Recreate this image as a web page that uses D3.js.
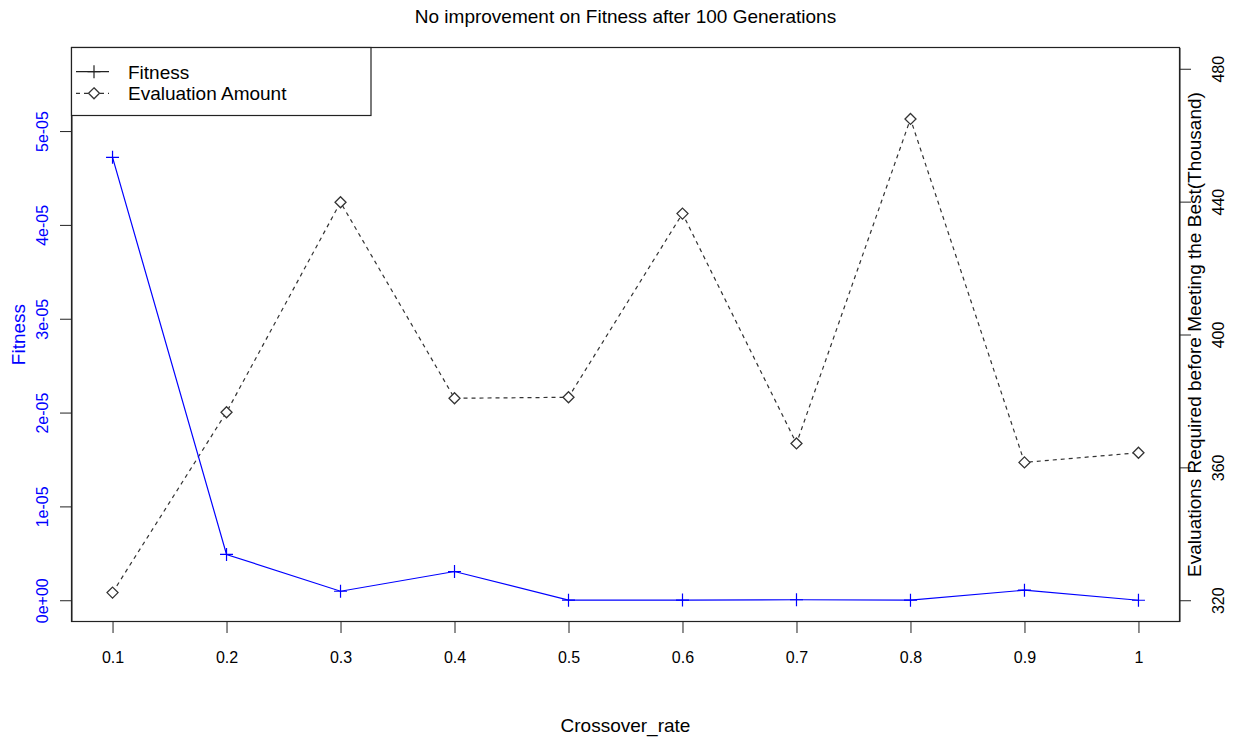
<!DOCTYPE html>
<html>
<head>
<meta charset="utf-8">
<script src="https://cdn.jsdelivr.net/npm/d3@7"></script>
<style>
  body { margin: 0; background: #fff; }
  text { font-family: "Liberation Sans", Arial, Helvetica, sans-serif; }
</style>
</head>
<body>
<svg id="chart" width="1233" height="738"></svg>
<script>
// Crossover rate experiment: best fitness and evaluations (thousands) needed to reach it
const crossoverRates = [0.1, 0.2, 0.3, 0.4, 0.5, 0.6, 0.7, 0.8, 0.9, 1.0];
const xTickLabels = ["0.1", "0.2", "0.3", "0.4", "0.5", "0.6", "0.7", "0.8", "0.9", "1"];
const fitness = [4.72e-5, 4.88e-6, 9.6e-7, 3.06e-6, 1e-8, 2e-8, 5e-8, 1e-8, 1.07e-6, 0];
const evaluations = [322.3, 376.6, 439.8, 380.8, 381.1, 436.4, 367.2, 464.9, 361.5, 364.4];
const fitnessTicks = [0, 1e-5, 2e-5, 3e-5, 4e-5, 5e-5];
const fitnessTickLabels = ["0e+00", "1e-05", "2e-05", "3e-05", "4e-05", "5e-05"];
const evalTicks = [320, 360, 400, 440, 480];
const evalTickLabels = ["320", "360", "400", "440", "480"];
const legendLabels = ["Fitness", "Evaluation Amount"];

const svg = d3.select("#chart");
const plot = { left: 71.5, right: 1179.5, top: 47.5, bottom: 621.5 };
const blue = "#0000ff";

// R-style 4% padding around axis limits
const pad = (lo, hi) => { const p = (hi - lo) * 0.04; return [lo - p, hi + p]; };

const x = d3.scaleLinear()
  .domain(pad(d3.min(crossoverRates), d3.max(crossoverRates)))
  .range([plot.left, plot.right]);
const yFit = d3.scaleLinear()
  .domain(pad(0, d3.max(fitness) * 1.2))
  .range([plot.bottom, plot.top]);
const yEval = d3.scaleLinear()
  .domain(pad(320, 480))
  .range([plot.bottom, plot.top]);

// Title
svg.append("text")
  .attr("x", (plot.left + plot.right) / 2).attr("y", 23)
  .attr("text-anchor", "middle").attr("font-size", 19).attr("fill", "#000")
  .text("No improvement on Fitness after 100 Generations");

// Bottom axis
const xAxis = d3.axisBottom(x).tickValues(crossoverRates)
  .tickFormat((d, i) => xTickLabels[i]).tickSize(11.5).tickPadding(0).tickSizeOuter(0);
const gx = svg.append("g").attr("transform", `translate(0,${plot.bottom})`).call(xAxis);
gx.select(".domain").remove();
gx.selectAll("text").attr("font-size", 16).attr("font-family", "Liberation Sans, Arial, sans-serif")
  .attr("fill", "#000").attr("dy", null).attr("y", 41);
gx.selectAll("line").attr("stroke", "#222");

svg.append("text")
  .attr("x", (plot.left + plot.right) / 2).attr("y", 732)
  .attr("text-anchor", "middle").attr("font-size", 19).attr("fill", "#000")
  .text("Crossover_rate");

// Left axis (fitness)
const yAxisL = d3.axisLeft(yFit).tickValues(fitnessTicks)
  .tickFormat((d, i) => fitnessTickLabels[i]).tickSize(11.5).tickSizeOuter(0);
const gl = svg.append("g").attr("transform", `translate(${plot.left},0)`).call(yAxisL);
gl.select(".domain").attr("stroke", "#222");
gl.selectAll("line").attr("stroke", "#222");
gl.selectAll("text").remove();
gl.selectAll(".tick").append("text")
  .attr("transform", "translate(-23.5,0) rotate(-90)")
  .attr("text-anchor", "middle").attr("font-size", 16).attr("fill", blue)
  .text((d, i) => fitnessTickLabels[i]);

svg.append("text")
  .attr("transform", `translate(25,${(plot.top + plot.bottom) / 2}) rotate(-90)`)
  .attr("text-anchor", "middle").attr("font-size", 19).attr("fill", blue)
  .text("Fitness");

// Right axis (evaluations)
const yAxisR = d3.axisRight(yEval).tickValues(evalTicks)
  .tickFormat((d, i) => evalTickLabels[i]).tickSize(11.5).tickSizeOuter(0);
const gr = svg.append("g").attr("transform", `translate(${plot.right},0)`).call(yAxisR);
gr.select(".domain").attr("stroke", "#222");
gr.selectAll("line").attr("stroke", "#222");
gr.selectAll("text").remove();
gr.selectAll(".tick").append("text")
  .attr("transform", "translate(44,0) rotate(-90)")
  .attr("text-anchor", "middle").attr("font-size", 16).attr("fill", "#000")
  .text((d, i) => evalTickLabels[i]);

svg.append("text")
  .attr("transform", `translate(1200.5,${(plot.top + plot.bottom) / 2}) rotate(-90)`)
  .attr("text-anchor", "middle").attr("font-size", 19).attr("fill", "#000")
  .text("Evaluations Required before Meeting the Best(Thousand)");

// Plot frame
svg.append("rect")
  .attr("x", plot.left).attr("y", plot.top)
  .attr("width", plot.right - plot.left).attr("height", plot.bottom - plot.top)
  .attr("fill", "none").attr("stroke", "#222").attr("stroke-width", 1.2);

// Marker shapes
const plusPath = (cx, cy, r) => `M${cx - r},${cy}H${cx + r}M${cx},${cy - r}V${cy + r}`;
const diamondPath = (cx, cy, r) => `M${cx},${cy - r}L${cx + r},${cy}L${cx},${cy + r}L${cx - r},${cy}Z`;

// Evaluation series: dashed line with diamonds
const evalData = crossoverRates.map((c, i) => [c, evaluations[i]]);
svg.append("path")
  .attr("d", d3.line().x(d => x(d[0])).y(d => yEval(d[1]))(evalData))
  .attr("fill", "none").attr("stroke", "#333").attr("stroke-width", 1.2)
  .attr("stroke-dasharray", "4,4");
svg.append("g").selectAll("path").data(evalData).join("path")
  .attr("d", d => diamondPath(x(d[0]), yEval(d[1]), 5.5))
  .attr("fill", "#fff").attr("stroke", "#333").attr("stroke-width", 1.3);

// Fitness series: solid blue line with plus markers
const fitData = crossoverRates.map((c, i) => [c, fitness[i]]);
svg.append("path")
  .attr("d", d3.line().x(d => x(d[0])).y(d => yFit(d[1]))(fitData))
  .attr("fill", "none").attr("stroke", blue).attr("stroke-width", 1.2);
svg.append("g").selectAll("path").data(fitData).join("path")
  .attr("d", d => plusPath(x(d[0]), yFit(d[1]), 6.5))
  .attr("fill", "none").attr("stroke", blue).attr("stroke-width", 1.2);

// Legend
const lg = svg.append("g");
lg.append("rect")
  .attr("x", plot.left).attr("y", plot.top).attr("width", 299.5).attr("height", 68)
  .attr("fill", "#fff").attr("stroke", "#222").attr("stroke-width", 1.2);
const rows = [71.7, 93.3];
lg.append("line").attr("x1", 76).attr("x2", 109).attr("y1", rows[0]).attr("y2", rows[0])
  .attr("stroke", "#222").attr("stroke-width", 1.2);
lg.append("path").attr("d", plusPath(94, rows[0], 6.5)).attr("stroke", "#222").attr("stroke-width", 1.2);
lg.append("line").attr("x1", 76).attr("x2", 109).attr("y1", rows[1]).attr("y2", rows[1])
  .attr("stroke", "#333").attr("stroke-width", 1.2).attr("stroke-dasharray", "4,4");
lg.append("path").attr("d", diamondPath(94, rows[1], 5.5))
  .attr("fill", "#fff").attr("stroke", "#333").attr("stroke-width", 1.3);
lg.selectAll("text.lbl").data(legendLabels).join("text")
  .attr("class", "lbl")
  .attr("x", 128).attr("y", (d, i) => rows[i] + 6.8)
  .attr("font-size", 19).attr("fill", "#000")
  .text(d => d);
</script>
</body>
</html>
